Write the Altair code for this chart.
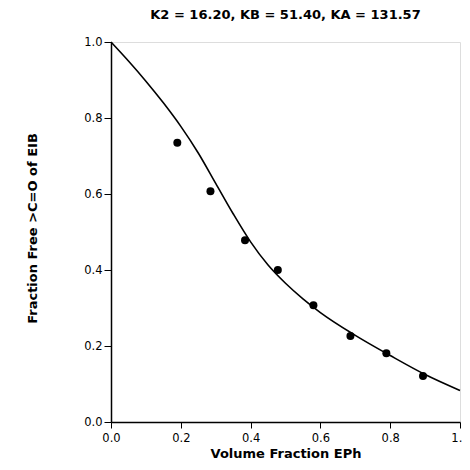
import altair as alt
import pandas as pd

# Experimental points
pt_x = [0.19, 0.285, 0.384, 0.478, 0.58, 0.686, 0.789, 0.894]
pt_y = [0.735, 0.607, 0.478, 0.400, 0.307, 0.226, 0.181, 0.121]

# Fitted curve
cv_x = [0.0, 0.05, 0.10, 0.15, 0.20, 0.25, 0.30, 0.35, 0.40, 0.45, 0.50, 0.55, 0.60, 0.70, 0.80, 0.90, 1.0]
cv_y = [1.0, 0.95, 0.897, 0.840, 0.778, 0.708, 0.628, 0.548, 0.474, 0.413, 0.365, 0.324, 0.288, 0.228, 0.175, 0.125, 0.083]

x_ticks = [round(i * 0.05, 2) for i in range(21)]
y_ticks = [round(i * 0.1, 1) for i in range(11)]

pts = pd.DataFrame({"x": pt_x, "y": pt_y})
crv = pd.DataFrame({"x": cv_x, "y": cv_y})

FONT = "DejaVu Sans"
major = "abs(datum.value*5 - round(datum.value*5)) < 0.001"

x_enc = alt.X(
    "x:Q",
    scale=alt.Scale(domain=[0, 1], nice=False, zero=False),
    axis=alt.Axis(
        title="Volume Fraction EPh",
        values=x_ticks,
        labelExpr=f"{major} ? format(datum.value, '.1f') : ''",
        tickSize={"condition": {"test": major, "value": 6}, "value": 4},
        grid=False,
        domainColor="black",
        domainWidth=1.5,
        tickColor="black",
        labelColor="black",
        labelFont=FONT,
        labelFontSize=11.5,
        labelPadding=4,
        labelFlush=False,
        titleFont=FONT,
        titleFontSize=13,
        titleFontWeight="bold",
        titleColor="black",
        titleX=174.5,
        titleY=31,
        titleBaseline="middle",
    ),
)

y_enc = alt.Y(
    "y:Q",
    scale=alt.Scale(domain=[0, 1], nice=False, zero=False),
    axis=alt.Axis(
        title="Fraction Free >C=O of EIB",
        values=y_ticks,
        labelExpr=f"{major} ? format(datum.value, '.1f') : ''",
        tickSize={"condition": {"test": major, "value": 7}, "value": 4},
        grid=False,
        domainColor="black",
        domainWidth=1.5,
        tickColor="black",
        labelColor="black",
        labelFont=FONT,
        labelFontSize=11.5,
        labelPadding=2,
        labelFlush=False,
        titleFont=FONT,
        titleFontSize=13,
        titleFontWeight="bold",
        titleColor="black",
        titleX=-79,
        titleY=186,
        titleAngle=-90,
        titleAlign="center",
        titleBaseline="middle",
    ),
)

line = alt.Chart(crv).mark_line(color="black", strokeWidth=1.6, interpolate="monotone").encode(
    x=x_enc, y=y_enc
)
dots = alt.Chart(pts).mark_circle(color="black", opacity=1, size=64).encode(x="x:Q", y="y:Q")

chart = (
    alt.layer(line, dots)
    .properties(
        width=349,
        height=380,
        title=alt.TitleParams(
            "K2 = 16.20, KB = 51.40, KA = 131.57",
            font=FONT,
            fontSize=13,
            fontWeight="bold",
            color="black",
            anchor="middle",
            frame="group",
            baseline="alphabetic",
            offset=4,
        ),
        autosize=alt.AutoSizeParams(type="none"),
        padding={"left": 103, "top": 34, "right": 2, "bottom": 38},
    )
    .configure_view(stroke="black", strokeWidth=1.5)
    .configure(background="white")
)

chart.save("out.html", embed_options={"renderer": "svg", "actions": False})
